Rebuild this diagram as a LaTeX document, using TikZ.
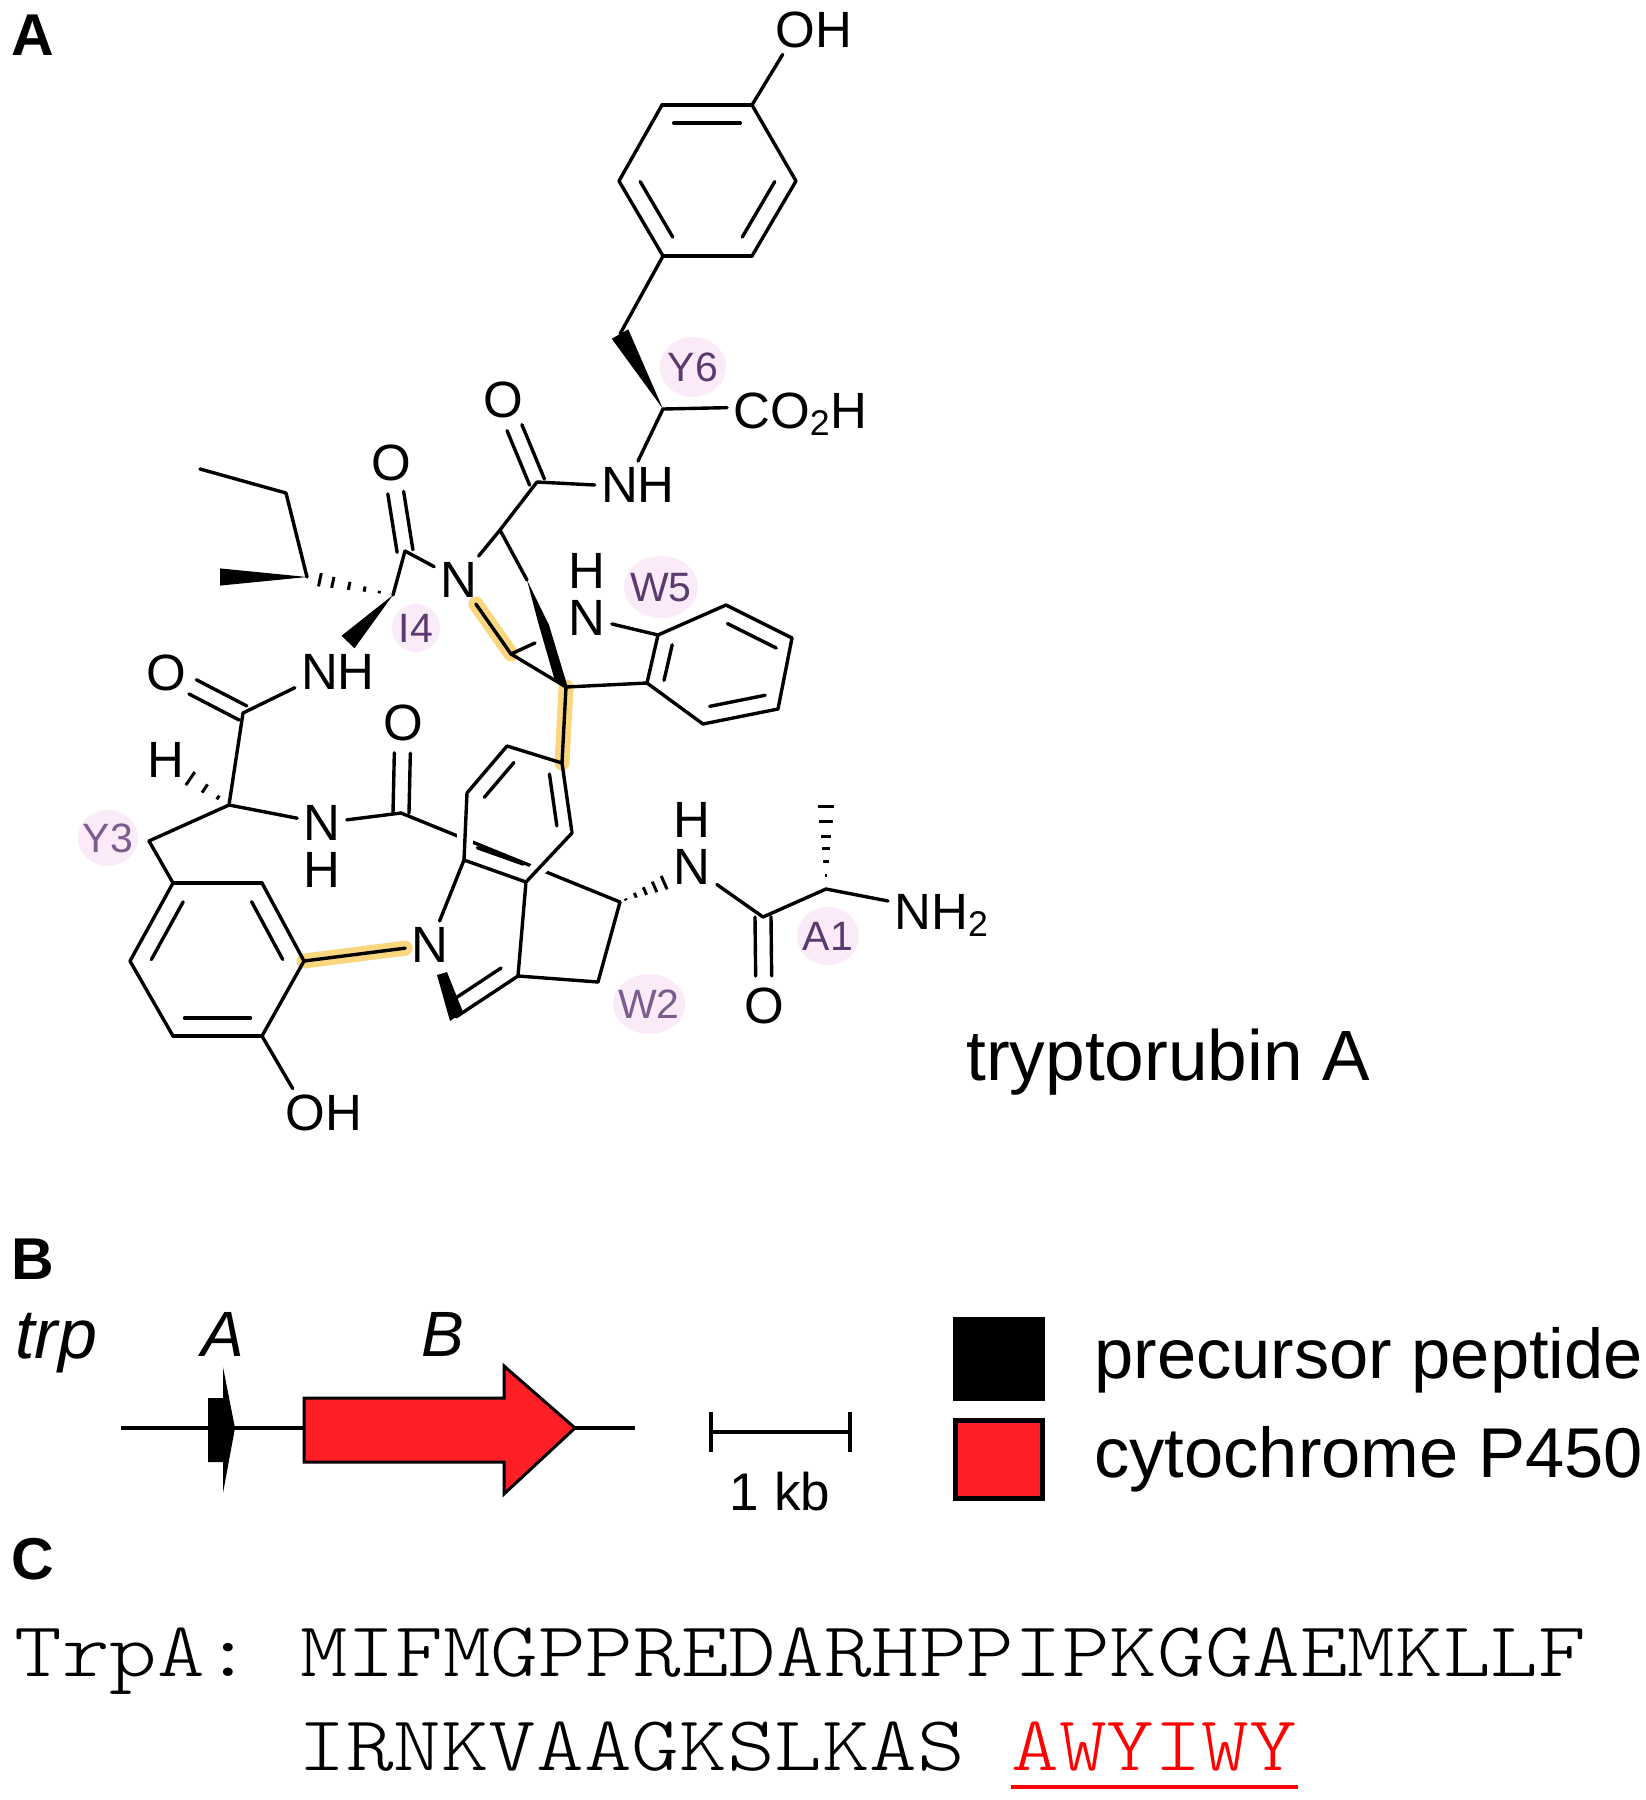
\documentclass[tikz,border=0pt]{standalone}
\usepackage{fontspec}
\setmainfont{Liberation Sans}
\newfontfamily\seqfont[FakeStretch=1.163]{Latin Modern Mono Light}
\usetikzlibrary{shapes.geometric, calc, positioning}
\definecolor{hilite}{HTML}{FAD77E}
\definecolor{resipink}{HTML}{FBEBF9}
\definecolor{resipurple}{HTML}{5C3A6E}
\definecolor{resilight}{HTML}{7B5C8E}
\definecolor{genered}{HTML}{FF1F26}
\tikzset{
  bond/.style={line width=1.7pt, line cap=round},
  over/.style={preaction={draw=white, line width=8pt, line cap=butt}},
  hilitebond/.style={hilite, line width=7.5pt, line cap=round},
  atom/.style={font=\fontsize{25.5}{30}\selectfont, inner sep=3pt},
  resi/.style={ellipse, fill=resipink, text=resipurple, inner sep=0pt, font=\fontsize{20.5}{24}\selectfont},
  bigtext/.style={font=\fontsize{35.25}{40}\selectfont, anchor=base west, inner sep=0pt},
  panel/.style={font=\fontsize{29.5}{34}\selectfont\bfseries, inner sep=0pt},
  gene/.style={font=\fontsize{32}{36}\selectfont\itshape, anchor=base west, inner sep=0pt},
  seqtext/.style={font=\seqfont\fontsize{39}{44}\selectfont, anchor=base west, inner sep=0pt}
}
% parallel inner line of a double bond
\newcommand{\innerbond}[3]{\draw[bond] ($(#1)!.13!(#2)!#3!90:(#2)$) -- ($(#2)!.13!(#1)!#3!-90:(#1)$);}
% C=O: two lines round the axis, stopping short of the O
\newcommand{\cobond}[2]{%
  \draw[bond] ($(#1)!4pt!90:(#2)$) -- ($(#2)!15pt!(#1)!4pt!-90:(#1)$);
  \draw[bond] ($(#1)!4pt!-90:(#2)$) -- ($(#2)!15pt!(#1)!4pt!90:(#1)$);}
\newcommand{\wedgebond}[3]{\fill ($(#2)!#3!90:(#1)$) -- (#1) -- ($(#2)!#3!-90:(#1)$) -- cycle;}
\newcommand{\hashbond}[4]{\foreach \t [evaluate=\t as \w using \t*#3] in {#4}
  \draw[line width=1.5pt] ($(#1)!\t!(#2)!\w pt!90:(#2)$) -- ($(#1)!\t!(#2)!\w pt!-90:(#2)$);}
% residue text takes no room, so the mark keeps its given size
\newcommand{\resitext}[1]{\raisebox{-.36em}[0pt][0pt]{\makebox[0pt]{#1}}}

\begin{document}
\begin{tikzpicture}[x=0.5pt, y=-0.5pt]
  \useasboundingbox (0,0) rectangle (1645,1800);

  % vertices
  \foreach \n/\x/\y in {ta/752/105, tb/662/105, tc/619/181, td/663/256, te/752/256, tf/796/181,
      yb/620/334, ya/663/409, yc/537/482, wa/500/530, ic/405/551, ia/393/595, ib/307/577,
      ig/286/493, id/200/469, im/220/577, iw/348/642, wc/511/654, wq/566/687, wx/535/643, wt/527/580,
      a1/647/683, a2/658/635, a3/726/605, a4/792/638, a5/778/709, a6/703/724,
      lc/243/713, la/229/805, lh/185/775, wk/401/813, lb/149/841,
      r1/173/883, r2/262/883, r3/304/961, r4/262/1036, r5/173/1036, r6/130/961,
      p1/464/860, p2/526/882, p3/518/976, p4/456/1017,
      u1/467/793, u2/507/746, u3/562/763, u4/572/833,
      va/620/902, vb/598/982, vh/668/881, cm/763/917, ca/826/889, ch/826/795}
    \coordinate (\n) at (\x,\y);

  % residue marks
  \node[resi, minimum width=33pt, minimum height=30pt] (Y6) at (693,367) {\resitext{Y6}};
  \node[resi, minimum width=24pt, minimum height=24pt] (I4) at (416,628) {\resitext{I4}};
  \node[resi, minimum width=37pt, minimum height=31pt] (W5) at (661,587) {\resitext{W5}};
  \node[resi, minimum width=30pt, minimum height=28pt, text=resilight] (Y3) at (108,838) {\resitext{Y3}};
  \node[resi, minimum width=36pt, minimum height=30pt, text=resilight] (W2) at (649,1004) {\resitext{W2}};
  \node[resi, minimum width=31pt, minimum height=29pt] (A1) at (828,936) {\resitext{A1}};

  % atoms
  \node[atom] (oht) at (814,30) {OH};
  \node[atom, anchor=base west] (acid) at (727,428) {CO\textsubscript{2}H};
  \node[atom] (nhy) at (638,485) {NH};
  \node[atom] (oy) at (503,400) {O};
  \node[atom] (oi) at (391,463) {O};
  \node[atom] (nw) at (459,580) {N};
  \node[atom] (nv) at (587,618) {N};
  \node[atom] (hv) at (587,571) {H};
  \node[atom] (nhi) at (338,672) {NH};
  \node[atom] (ol) at (166,673) {O};
  \node[atom] (hl) at (166,760) {H};
  \node[atom] (ok) at (403,723) {O};
  \node[atom] (nl) at (322,823) {N};
  \node[atom] (hn) at (322,870) {H};
  \node[atom] (nk) at (430,945) {N};
  \node[atom] (ohb) at (324,1113) {OH};
  \node[atom] (na) at (692,867) {N};
  \node[atom] (ha) at (692,820) {H};
  \node[atom] (om) at (764,1006) {O};
  \node[atom, anchor=base west] (amine) at (888,929) {NH\textsubscript{2}};

  % new links
  \draw[hilitebond] (nw) -- (wc);
  \draw[hilitebond] (wq) -- (u3);
  \draw[hilitebond] (r3) -- (nk);

  % bonds
  \foreach \a/\b in {ta/tb, tb/tc, tc/td, td/te, te/tf, tf/ta, td/yb, yc/wa, wa/nw,
      ic/ia, ic/nw, ib/ig, ig/id, lc/la, la/nl, nl/wk, la/lb, lb/r1,
      r1/r2, r2/r3, r3/r4, r4/r5, r5/r6, r6/r1, r3/nk, nk/p1, p3/p4, p3/p2, p3/vb, vb/va,
      wc/wq, nw/wc, wc/wx, wq/a1, a1/a2, a2/a3, a3/a4, a4/a5, a5/a6, a6/a1, nv/a2, wa/wt,
      u1/u2, u2/u3, u3/u4, wq/u3, wk/va, na/cm, cm/ca}
    \draw[bond] (\a) -- (\b);
  \draw[bond] (ta) -- (oht.218);
  \draw[bond] (ya) -- (acid.175);
  \draw[bond] (ya) -- (nhy.north);
  \draw[bond] (yc) -- (nhy.west);
  \draw[bond] (lc) -- (nhi.200);
  \draw[bond] (r4) -- (ohb.142);
  \draw[bond] (ca) -- (amine.165);
  \draw[bond, over] (p1) -- (u1);
  \draw[bond, over] (p2) -- (u4);
  \draw[bond] (p1) -- (p2);

  % double bonds
  \innerbond{ta}{tb}{9pt}
  \innerbond{tc}{td}{9pt}
  \innerbond{te}{tf}{9pt}
  \innerbond{a2}{a1}{8pt}
  \innerbond{a3}{a4}{-8pt}
  \innerbond{a5}{a6}{-8pt}
  \innerbond{r1}{r6}{9pt}
  \innerbond{r2}{r3}{-9pt}
  \innerbond{r4}{r5}{-9pt}
  \innerbond{u1}{u2}{-8pt}
  \innerbond{u3}{u4}{-7pt}
  \innerbond{p1}{p2}{8pt}
  \innerbond{p4}{p3}{8pt}
  \cobond{yc}{oy}
  \cobond{ic}{oi}
  \cobond{lc}{ol}
  \cobond{wk}{ok}
  \cobond{cm}{om}

  % stereo bonds
  \wedgebond{ya}{yb}{4.75pt}
  \wedgebond{ib}{im}{4.3pt}
  \wedgebond{ia}{iw}{4.5pt}
  \fill (437,975) -- (447,972) -- (463,1012) -- (450,1021) -- cycle;
  \fill (wt) -- (549,625) -- (568,688) -- (555,681) -- (538,622) -- cycle;
  \hashbond{ia}{ib}{4}{.16,.33,.51,.70,.85}
  \hashbond{la}{lh}{4.5}{.25,.55,.88}
  \hashbond{va}{vh}{4}{.12,.32,.52,.72,.92}
  \hashbond{ca}{ch}{4.8}{.14,.29,.43,.56,.72,.88}

  \node[bigtext, font=\fontsize{35.6}{40}\selectfont] (name) at (966,1080) {tryptorubin A};

  % panels
  \node[panel] (pa) at (33,35) {A};
  \node[panel] (pb) at (33,1259) {B};
  \node[panel] (pc) at (33,1559) {C};

  % gene cluster
  \node[gene, font=\fontsize{35}{40}\selectfont\itshape] (trp) at (15,1358) {trp};
  \node[gene] (gA) at (201,1356) {A};
  \node[gene] (gB) at (421,1356) {B};
  \coordinate (gl) at (121,1428);
  \coordinate (gr) at (635,1428);
  \draw[line width=1.7pt] (gl) -- (gr);
  \fill (208,1398) -- (223,1398) -- (223,1367) -- (235,1428) -- (223,1493) -- (223,1462) -- (208,1462) -- cycle;
  \draw[fill=genered, line width=1.5pt, line join=miter] (304,1398) -- (504,1398) -- (504,1366) -- (575,1428) -- (504,1494) -- (504,1462) -- (304,1462) -- cycle;

  % scale
  \coordinate (sl) at (711,1432);
  \coordinate (sr) at (850,1432);
  \draw[line width=2.2pt] (sl) -- (sr);
  \draw[line width=1.6pt] (711,1412) -- (711,1452);
  \draw[line width=1.6pt] (850,1412) -- (850,1452);
  \node[font=\fontsize{26.5}{30}\selectfont, anchor=base, inner sep=0pt] (kb) at (780,1510) {1 kb};

  % legend
  \node[fill=black, minimum width=46pt, minimum height=42pt, inner sep=0pt] (boxA) at (999,1359) {};
  \node[draw, fill=genered, line width=2.5pt, minimum width=43.5pt, minimum height=39pt, inner sep=0pt] (boxB) at (999,1459) {};
  \node[bigtext] (legA) at (1094,1378) {precursor peptide};
  \node[bigtext] (legB) at (1094,1477) {cytochrome P450};

  % sequence
  \node[seqtext] (seqa) at (14,1676) {TrpA: MIFMGPPREDARHPPIPKGGAEMKLLF};
  \node[seqtext] (seqb) at (298,1770) {IRNKVAAGKSLKAS};
  \node[seqtext, text=red] (seqc) at (1011,1770) {AWYIWY};
  \draw[red, line width=1.6pt] ([yshift=-8pt]seqc.south west) -- ([yshift=-8pt]seqc.south east);
\end{tikzpicture}
\end{document}
